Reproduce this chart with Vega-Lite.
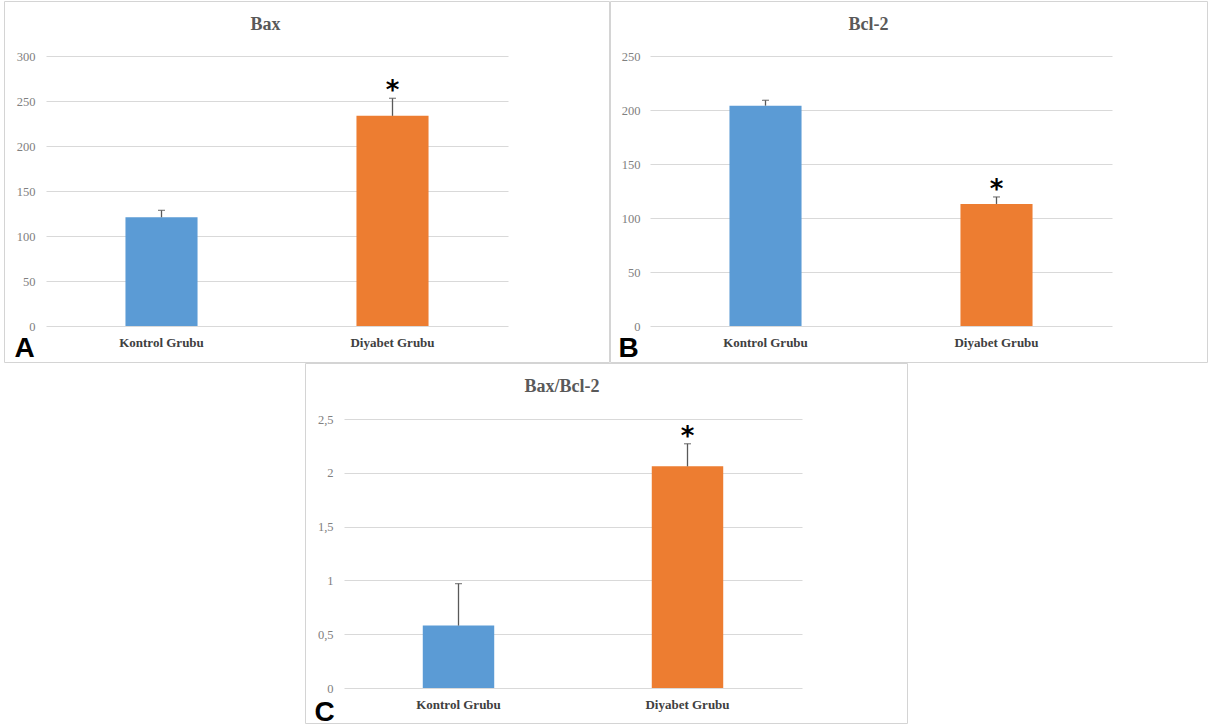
{
  "$schema": "https://vega.github.io/schema/vega-lite/v6.json",
  "padding": {"left": 3, "top": 0, "right": 0, "bottom": 0},
  "background": "white",
  "spacing": -3,
  "config": {
    "view": {"stroke": "#d4d4d4", "strokeWidth": 1},
    "title": {"font": "Liberation Serif", "fontSize": 18, "fontWeight": "bold", "color": "#595959", "offset": -33, "baseline": "alphabetic", "frame": "group", "anchor": "middle"},
    "axisY": {"title": null, "domain": false, "ticks": false, "labelPadding": 3, "grid": true, "gridColor": "#d9d9d9", "gridWidth": 1, "labelFont": "Liberation Serif", "labelFontSize": 12.5, "labelColor": "#808080"},
    "axisX": {"labelAngle": 0, "labelFont": "Liberation Serif", "labelFontWeight": "bold", "labelFontSize": 13, "labelColor": "#404040", "labelPadding": 10, "domain": false, "ticks": false, "grid": false, "titleFont": "Liberation Sans", "titleFontWeight": "bold", "titleFontSize": 28, "titleColor": "#000000", "titleAlign": "left", "titleBaseline": "alphabetic", "titleAnchor": "start"}
  },
  "vconcat": [
    {
      "hconcat": [
        {
          "width": 605, "height": 361,
          "title": {"text": "Bax", "dx": -41},
          "data": {"values": [
            {"group": "Kontrol Grubu", "mean": 120.8, "upper": 128.5, "sig": ""},
            {"group": "Diyabet Grubu", "mean": 233.5, "upper": 253, "sig": "*"}
          ]},
          "encoding": {
            "x": {"field": "group", "type": "nominal", "sort": null,
              "scale": {"range": [42, 504], "paddingInner": 0.688, "paddingOuter": 0.344},
              "axis": {"title": "A", "offset": -36, "titleX": 10, "titleY": 30}}
          },
          "layer": [
            {"mark": {"type": "bar"},
             "encoding": {
               "y": {"field": "mean", "type": "quantitative", "scale": {"domain": [0, 300], "range": [325, 55], "nice": false, "zero": false},
                 "axis": {"values": [0, 50, 100, 150, 200, 250, 300], "offset": -34}},
               "color": {"field": "group", "type": "nominal", "scale": {"domain": ["Kontrol Grubu", "Diyabet Grubu"], "range": ["#5b9bd5", "#ed7d31"]}, "legend": null}
             }},
            {"mark": {"type": "rule", "color": "#595959", "strokeWidth": 1.3},
             "encoding": {"y": {"field": "mean", "type": "quantitative"}, "y2": {"field": "upper"}}},
            {"mark": {"type": "tick", "color": "#595959", "size": 7, "thickness": 1.3},
             "encoding": {"y": {"field": "upper", "type": "quantitative"}}},
            {"mark": {"type": "text", "font": "DejaVu Sans", "fontWeight": "bold", "fontSize": 26, "baseline": "alphabetic", "dy": 1, "color": "#000000"},
             "encoding": {"y": {"field": "upper", "type": "quantitative"}, "text": {"field": "sig"}}}
          ]
        },
        {
          "width": 597, "height": 361,
          "title": {"text": "Bcl-2", "dx": -40},
          "data": {"values": [
            {"group": "Kontrol Grubu", "mean": 204, "upper": 209, "sig": ""},
            {"group": "Diyabet Grubu", "mean": 113, "upper": 119.5, "sig": "*"}
          ]},
          "encoding": {
            "x": {"field": "group", "type": "nominal", "sort": null,
              "scale": {"range": [40, 502], "paddingInner": 0.688, "paddingOuter": 0.344},
              "axis": {"title": "B", "offset": -36, "titleX": 8, "titleY": 30}}
          },
          "layer": [
            {"mark": {"type": "bar"},
             "encoding": {
               "y": {"field": "mean", "type": "quantitative", "scale": {"domain": [0, 250], "range": [325, 55], "nice": false, "zero": false},
                 "axis": {"values": [0, 50, 100, 150, 200, 250], "offset": -33}},
               "color": {"field": "group", "type": "nominal", "scale": {"domain": ["Kontrol Grubu", "Diyabet Grubu"], "range": ["#5b9bd5", "#ed7d31"]}, "legend": null}
             }},
            {"mark": {"type": "rule", "color": "#595959", "strokeWidth": 1.3},
             "encoding": {"y": {"field": "mean", "type": "quantitative"}, "y2": {"field": "upper"}}},
            {"mark": {"type": "tick", "color": "#595959", "size": 7, "thickness": 1.3},
             "encoding": {"y": {"field": "upper", "type": "quantitative"}}},
            {"mark": {"type": "text", "font": "DejaVu Sans", "fontWeight": "bold", "fontSize": 26, "baseline": "alphabetic", "dy": 1, "color": "#000000"},
             "encoding": {"y": {"field": "upper", "type": "quantitative"}, "text": {"field": "sig"}}}
          ]
        }
      ],
      "spacing": -3
    },
    {
      "hconcat": [
        {
          "width": 300, "height": 360,
          "view": {"stroke": null},
          "data": {"values": []},
          "mark": "point"
        },
        {
          "width": 602, "height": 360,
          "title": {"text": "Bax/Bcl-2", "dx": -44},
          "data": {"values": [
            {"group": "Kontrol Grubu", "mean": 0.58, "upper": 0.97, "sig": ""},
            {"group": "Diyabet Grubu", "mean": 2.06, "upper": 2.27, "sig": "*"}
          ]},
          "encoding": {
            "x": {"field": "group", "type": "nominal", "sort": null,
              "scale": {"range": [39, 497], "paddingInner": 0.688, "paddingOuter": 0.344},
              "axis": {"title": "C", "offset": -35, "titleX": 9, "titleY": 32}}
          },
          "layer": [
            {"mark": {"type": "bar"},
             "encoding": {
               "y": {"field": "mean", "type": "quantitative", "scale": {"domain": [0, 2.5], "range": [325, 56], "nice": false, "zero": false},
                 "axis": {"values": [0, 0.5, 1, 1.5, 2, 2.5], "offset": -31, "labelExpr": "replace(format(datum.value, '~g'), '.', ',')"}},
               "color": {"field": "group", "type": "nominal", "scale": {"domain": ["Kontrol Grubu", "Diyabet Grubu"], "range": ["#5b9bd5", "#ed7d31"]}, "legend": null}
             }},
            {"mark": {"type": "rule", "color": "#595959", "strokeWidth": 1.3},
             "encoding": {"y": {"field": "mean", "type": "quantitative"}, "y2": {"field": "upper"}}},
            {"mark": {"type": "tick", "color": "#595959", "size": 7, "thickness": 1.3},
             "encoding": {"y": {"field": "upper", "type": "quantitative"}}},
            {"mark": {"type": "text", "font": "DejaVu Sans", "fontWeight": "bold", "fontSize": 26, "baseline": "alphabetic", "dy": 1, "color": "#000000"},
             "encoding": {"y": {"field": "upper", "type": "quantitative"}, "text": {"field": "sig"}}}
          ]
        }
      ],
      "spacing": 0
    }
  ]
}
